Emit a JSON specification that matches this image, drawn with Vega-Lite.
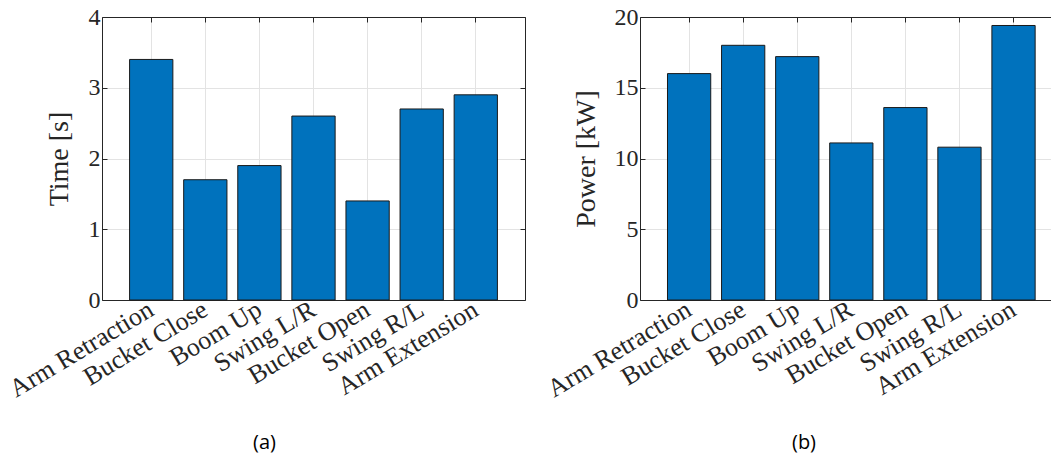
{
  "$schema": "https://vega.github.io/schema/vega-lite/v6.json",
  "background": "white",
  "padding": {"left": 4, "top": 5, "right": 0, "bottom": 4},
  "autosize": {"type": "pad"},
  "spacing": 16,
  "config": {
    "view": {"stroke": null},
    "font": "Liberation Serif",
    "axis": {
      "labelFont": "Liberation Serif",
      "titleFont": "Liberation Serif",
      "labelFontSize": 24,
      "titleFontSize": 28,
      "titleFontWeight": "normal",
      "labelColor": "#262626",
      "titleColor": "#262626",
      "domainColor": "#262626",
      "tickColor": "#262626",
      "gridColor": "#e3e3e3",
      "gridWidth": 1,
      "domainWidth": 1,
      "tickWidth": 1
    }
  },
  "datasets": {
    "time": [
      {"motion": "Arm Retraction", "value": 3.4},
      {"motion": "Bucket Close", "value": 1.7},
      {"motion": "Boom Up", "value": 1.9},
      {"motion": "Swing L/R", "value": 2.6},
      {"motion": "Bucket Open", "value": 1.4},
      {"motion": "Swing R/L", "value": 2.7},
      {"motion": "Arm Extension", "value": 2.9}
    ],
    "power": [
      {"motion": "Arm Retraction", "value": 16.0},
      {"motion": "Bucket Close", "value": 18.0},
      {"motion": "Boom Up", "value": 17.2},
      {"motion": "Swing L/R", "value": 11.1},
      {"motion": "Bucket Open", "value": 13.6},
      {"motion": "Swing R/L", "value": 10.8},
      {"motion": "Arm Extension", "value": 19.4}
    ]
  },
  "hconcat": [
    {
      "width": 423,
      "height": 283,
      "data": {"name": "time"},
      "title": {"text": "(a)", "orient": "bottom", "font": "Open Sans", "fontSize": 20, "fontWeight": "normal", "color": "#000000", "anchor": "middle", "frame": "group", "dx": -49, "offset": 31},
      "resolve": {"axis": {"x": "independent", "y": "independent"}},
      "layer": [
        {
          "mark": {"type": "bar", "color": "#0072BD", "stroke": "#1a1a1a", "strokeWidth": 1},
          "encoding": {
            "x": {"field": "motion", "type": "nominal", "sort": null,
              "scale": {"paddingInner": 0.2, "paddingOuter": 0.51},
              "axis": {"title": null, "labelAngle": -31, "labelAlign": "right", "labelBaseline": "middle", "labelFontSize": 26, "labelPadding": 12, "tickSize": -5, "bandPosition": 0.5, "grid": true, "domain": true}},
            "y": {"field": "value", "type": "quantitative",
              "scale": {"domain": [0, 4], "nice": false},
              "axis": {"title": "Time [s]", "values": [0, 1, 2, 3, 4], "tickSize": -5, "labelPadding": 7, "titlePadding": 15, "grid": true, "format": "d"}}
          }
        },
        {
          "mark": {"type": "bar", "fillOpacity": 0, "strokeOpacity": 0},
          "encoding": {
            "x": {"field": "motion", "type": "nominal", "sort": null,
              "axis": {"orient": "top", "title": null, "labels": false, "tickSize": -5, "bandPosition": 0.5, "grid": false, "domain": true}},
            "y": {"field": "value", "type": "quantitative",
              "axis": {"orient": "right", "title": null, "labels": false, "values": [0, 1, 2, 3, 4], "tickSize": -5, "grid": false, "domain": true}}
          }
        }
      ]
    },
    {
      "width": 412,
      "height": 283,
      "data": {"name": "power"},
      "title": {"text": "(b)", "orient": "bottom", "font": "Open Sans", "fontSize": 20, "fontWeight": "normal", "color": "#000000", "anchor": "middle", "frame": "group", "dx": -42, "offset": 31},
      "resolve": {"axis": {"x": "independent"}},
      "layer": [
        {
          "mark": {"type": "bar", "color": "#0072BD", "stroke": "#1a1a1a", "strokeWidth": 1},
          "encoding": {
            "x": {"field": "motion", "type": "nominal", "sort": null,
              "scale": {"paddingInner": 0.2, "paddingOuter": 0.41, "align": 0.62},
              "axis": {"title": null, "labelAngle": -31, "labelAlign": "right", "labelBaseline": "middle", "labelFontSize": 26, "labelPadding": 12, "tickSize": -5, "bandPosition": 0.5, "grid": true, "domain": true}},
            "y": {"field": "value", "type": "quantitative",
              "scale": {"domain": [0, 20], "nice": false},
              "axis": {"title": "Power [kW]", "values": [0, 5, 10, 15, 20], "tickSize": -5, "labelPadding": 7, "titlePadding": 14, "grid": true}}
          }
        },
        {
          "mark": {"type": "bar", "fillOpacity": 0, "strokeOpacity": 0},
          "encoding": {
            "x": {"field": "motion", "type": "nominal", "sort": null,
              "axis": {"orient": "top", "title": null, "labels": false, "tickSize": -5, "bandPosition": 0.5, "grid": false, "domain": true}},
            "y": {"field": "value", "type": "quantitative"}
          }
        }
      ]
    }
  ]
}
